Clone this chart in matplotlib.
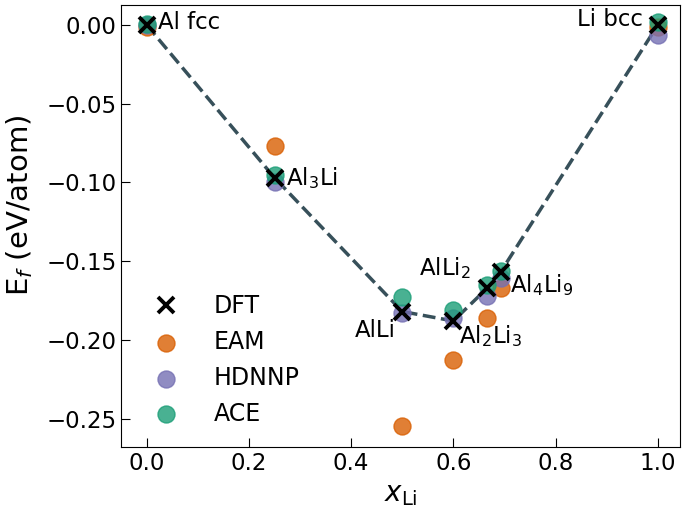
import numpy as np
import matplotlib
matplotlib.use("Agg")
from matplotlib import pyplot as plt

# compositions (x_Li)
x = [0.0, 0.25, 0.5, 0.6, 2/3, 9/13, 1.0]
names = ["Al fcc", "Al$_3$Li", "AlLi", "Al$_2$Li$_3$", "AlLi$_2$", "Al$_4$Li$_9$", "Li bcc"]

# formation energies (eV/atom)
e_dft = [0.0, -0.097, -0.182, -0.188, -0.167, -0.157, 0.0]
e_eam = [-0.001, -0.077, -0.255, -0.213, -0.186, -0.167, -0.001]
e_hdnnp = [0.0, -0.100, -0.183, -0.186, -0.172, -0.161, -0.006]
e_ace = [0.001, -0.095, -0.173, -0.181, -0.165, -0.156, 0.002]

# label offsets in points (dx, dy, ha)
offsets = [(8, 2, "left"), (8, 0, "left"), (-5, -14, "right"), (4, -11, "left"),
           (-12, 14, "right"), (7, -9, "left"), (-11, 4, "right")]

dark2 = plt.get_cmap("Dark2").colors

fig, ax = plt.subplots(figsize=(6.85, 5.16), dpi=100)
plt.subplots_adjust(left=0.177, right=0.993, top=0.990, bottom=0.134)

ax.plot(x, e_dft, "--", color="#37505a", lw=2.5, zorder=1)
ax.scatter(x, e_eam, s=150, color=dark2[1], alpha=0.8, label="EAM", zorder=2)
ax.scatter(x, e_hdnnp, s=150, color=dark2[2], alpha=0.8, label="HDNNP", zorder=3)
ax.scatter(x, e_ace, s=150, color=dark2[0], alpha=0.8, label="ACE", zorder=4)
ax.plot(x, e_dft, "x", color="black", ms=11, mew=2.8, ls="none", label="DFT", zorder=5)

for xi, yi, name, (dx, dy, ha) in zip(x, e_dft, names, offsets):
    ax.annotate(name, (xi, yi), xytext=(dx, dy), textcoords="offset points",
                ha=ha, va="center", fontsize=16.5)

handles, labels = ax.get_legend_handles_labels()
order = [3, 0, 1, 2]
ax.legend([handles[i] for i in order], [labels[i] for i in order],
          loc="lower left", frameon=False, fontsize=17, handletextpad=1.0)

ax.set_xlabel(r"$x_{\rm Li}$", fontsize=20)
ax.set_ylabel(r"E$_f$ (eV/atom)", fontsize=21)
ax.yaxis.set_label_coords(-0.155, 0.547)
ax.tick_params(direction="in", labelsize=16.5, length=6.5)
ax.set_xticks([0.0, 0.2, 0.4, 0.6, 0.8, 1.0])
ax.set_yticks([0.0, -0.05, -0.10, -0.15, -0.20, -0.25])
ax.set_xlim(-0.05, 1.044)
ax.set_ylim(-0.268, 0.0127)

plt.savefig("out.png")
